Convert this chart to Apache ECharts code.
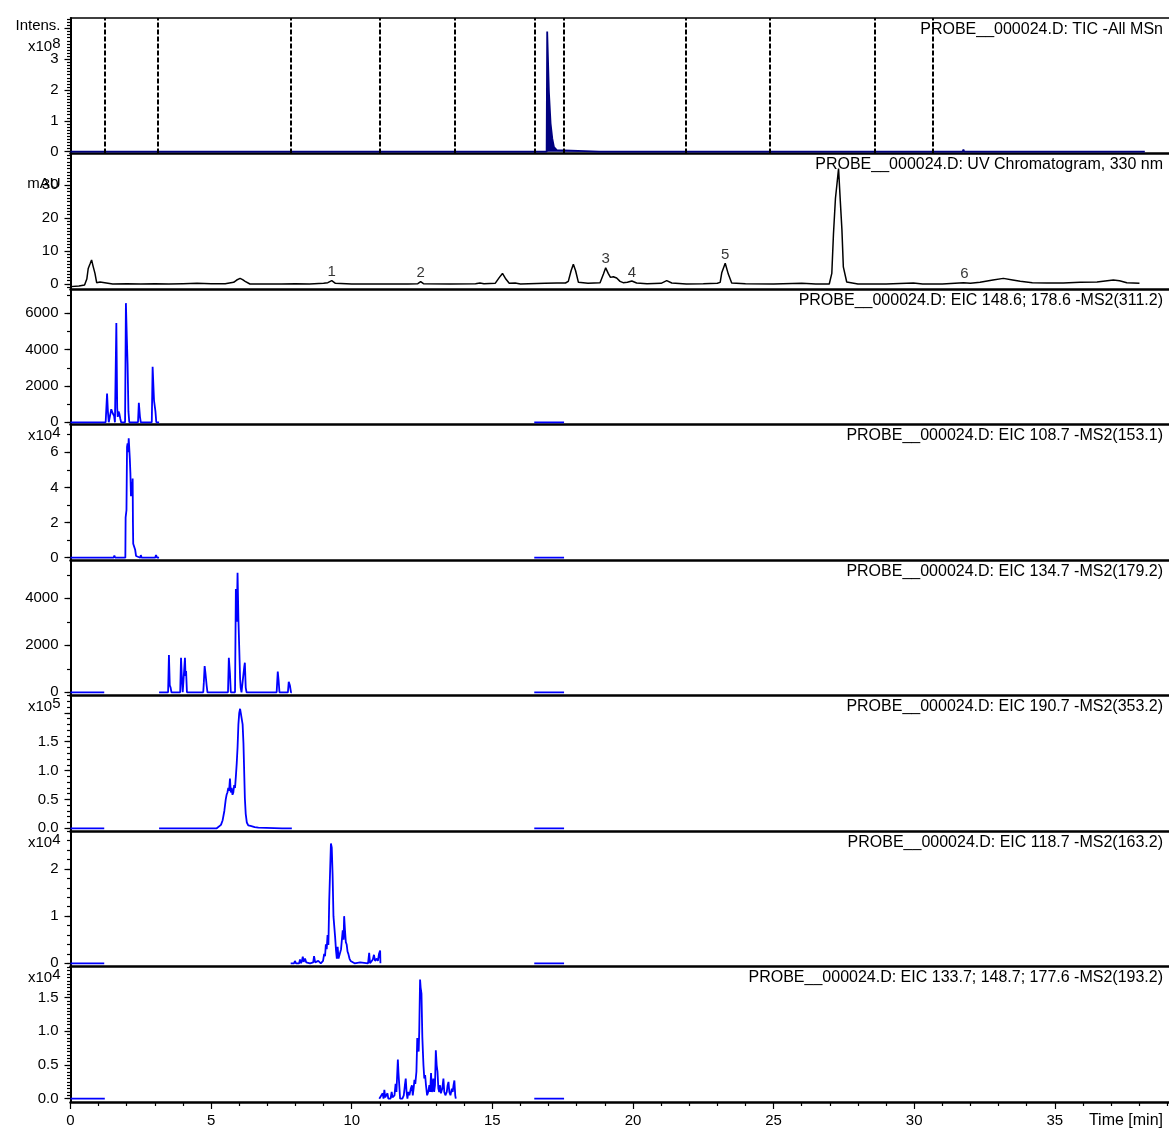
<!DOCTYPE html>
<html><head><meta charset="utf-8">
<script src="https://cdn.jsdelivr.net/npm/echarts@6/dist/echarts.min.js"></script>
<style>html,body{margin:0;padding:0;background:#fff}#c{width:1169px;height:1129px}</style>
</head><body><div id="c"></div>
<script>
const FONT = '"Liberation Sans", Arial, sans-serif';

// ---------------- data ----------------
const timeMax = 39.06;
const xTicks = [0, 5, 10, 15, 20, 25, 30, 35];
const segmentTimes = [1.23, 3.12, 7.84, 10.98, 13.68, 16.49, 17.55, 21.89, 24.85, 28.58, 30.65];

const titles = [
  'PROBE__000024.D: TIC -All MSn',
  'PROBE__000024.D: UV Chromatogram, 330 nm',
  'PROBE__000024.D: EIC 148.6; 178.6 -MS2(311.2)',
  'PROBE__000024.D: EIC 108.7 -MS2(153.1)',
  'PROBE__000024.D: EIC 134.7 -MS2(179.2)',
  'PROBE__000024.D: EIC 190.7 -MS2(353.2)',
  'PROBE__000024.D: EIC 118.7 -MS2(163.2)',
  'PROBE__000024.D: EIC 133.7; 148.7; 177.6 -MS2(193.2)'
];

// TIC (x10^8)
const tic = [[0,0],[9.20,0],[9.23,0.06],[9.26,0],[9.55,0],[9.58,0.06],[9.61,0],[12.28,0],[12.31,0.05],[12.34,0],
  [12.72,0],[12.75,0.05],[12.78,0],[16.93,0],[16.95,3.9],[16.99,3.9],[17.01,1.95],[17.05,1.9],[17.07,0.92],[17.11,0.9],
  [17.13,0.43],[17.17,0.4],[17.19,0.15],[17.24,0.1],[17.29,0.05],[17.35,0],[18.80,0],[18.83,0.06],[18.86,0],
  [19.58,0],[19.61,0.05],[19.64,0],[20.15,0],[20.18,0.06],[20.21,0],[21.0,0],[21.03,0.04],[21.06,0],[23.05,0],
  [23.08,0.06],[23.11,0],[23.38,0],[23.41,0.05],[23.44,0],[31.72,0],[31.75,0.07],[31.78,0],[32.20,0],[32.23,0.04],
  [32.26,0],[38.2,0]];

// UV 330 nm (mAU)
const uv = [[0,-0.8],[0.3,-0.6],[0.5,-0.3],[0.58,1.5],[0.63,4.7],[0.70,6.2],[0.75,7.3],[0.80,5.5],[0.87,3.2],[0.93,0.4],
  [1.0,0.3],[1.05,0.6],[1.1,0.1],[1.5,0.0],[2.0,0.1],[2.5,0],[3.0,0.1],[3.5,0],[4.0,0.1],[4.5,0.2],[5.0,0.1],[5.5,0.1],
  [5.8,0.5],[5.91,1.2],[6.03,1.7],[6.12,1.3],[6.21,0.8],[6.38,0],[7.0,0],[7.5,0],[8.0,0.1],[8.5,0.0],[9.0,0.2],[9.15,0.4],
  [9.29,1.0],[9.42,0.2],[10,0],[11,0],[12,0],[12.35,0.1],[12.45,0.7],[12.55,0.1],[13.5,0],[14.4,0.1],[14.56,0.3],
  [14.7,0.1],[15.1,0.2],[15.25,2.0],[15.36,3.2],[15.48,1.5],[15.6,0.2],[15.81,0.3],[16.0,0],[16.87,0.2],[17.3,0.3],
  [17.6,0.3],[17.7,0.8],[17.8,4.0],[17.88,6.0],[17.96,4.0],[18.06,0.5],[18.4,0.2],[18.83,0.4],[18.95,3.0],[19.03,4.9],
  [19.12,3.2],[19.20,2.0],[19.30,2.2],[19.42,1.8],[19.54,0.8],[19.65,0.4],[19.80,0.5],[19.96,0.9],[20.13,0.3],[20.5,0.1],
  [21.0,0.2],[21.2,1.0],[21.38,0.3],[21.9,0],[22.5,0.1],[23.0,0.2],[23.1,0.5],[23.16,3.5],[23.28,6.3],[23.39,3.0],
  [23.51,0.3],[24,0.1],[25,0],[26,0.2],[26.5,0],[26.98,0],[27.07,3.2],[27.13,15.3],[27.2,26],[27.25,30],[27.31,35],
  [27.37,25.5],[27.43,16.4],[27.48,5.2],[27.6,0.6],[28,0],[29,0],[29.97,0.3],[30.3,0],[31,0],[31.75,0.4],[32.0,0.2],
  [32.34,0.5],[32.8,1.2],[33.17,1.7],[33.5,1.2],[33.77,0.8],[34.2,0.4],[34.72,0.3],[35.3,0.3],[35.9,0.5],[36.5,0.6],
  [37.08,1.2],[37.3,1.0],[37.56,0.4],[38.01,0.2]];
const peakTimes = [9.29, 12.45, 19.03, 19.96, 23.28, 31.79];
const peakValues = [1.0, 0.7, 4.9, 0.9, 6.3, 0.4];
const peakNames = ['1', '2', '3', '4', '5', '6'];

// EIC 148.6; 178.6 -MS2(311.2)
const eic148 = [[0,0],[1.25,0],[1.28,0],[1.30,1580],[1.33,600],[1.36,0],[1.42,0],[1.45,720],[1.50,500],[1.55,350],
  [1.58,0],[1.61,0],[1.63,5460],[1.66,800],[1.68,300],[1.71,600],[1.74,450],[1.77,200],[1.80,0],[1.94,0],[1.97,6560],
  [2.0,4800],[2.03,3200],[2.06,600],[2.09,0],[2.40,0],[2.43,1070],[2.47,300],[2.50,0],[2.89,0],[2.92,3060],[2.97,1200],
  [3.02,600],[3.05,0],[3.15,0],null,[16.49,0],[17.55,0]];
// EIC 108.7 -MS2(153.1) (x10^4)
const eic108 = [[0,0],[1.53,0],[1.56,0.12],[1.59,0],[1.67,0],[1.70,0.1],[1.73,0],[1.95,0],[1.96,2.3],[1.99,2.7],
  [2.01,6.3],[2.03,6.5],[2.05,6.0],[2.07,6.8],[2.09,6.7],[2.11,5.6],[2.13,4.8],[2.15,3.5],[2.17,4.3],[2.19,3.6],
  [2.21,4.5],[2.22,2.0],[2.23,0.8],[2.27,0.6],[2.30,0.45],[2.33,0.1],[2.36,0],[2.48,0],[2.50,0.15],[2.53,0],[3.01,0],
  [3.04,0.15],[3.08,0],[3.15,0],null,[16.49,0],[17.55,0]];
// EIC 134.7 -MS2(179.2)
const eic134 = [[0,0],[1.2,0],null,[3.15,0],[3.47,0],[3.50,1590],[3.53,300],[3.56,200],[3.59,0],[3.90,0],[3.93,1470],
  [3.96,600],[3.99,0],[4.03,0],[4.07,1470],[4.09,700],[4.11,900],[4.14,0],[4.72,0],[4.74,400],[4.77,1120],[4.80,800],
  [4.84,300],[4.87,0],[5.60,0],[5.63,1470],[5.67,800],[5.70,0],[5.85,0],[5.88,4400],[5.91,3000],[5.94,5090],[5.97,3150],
  [6.00,3100],[6.03,600],[6.05,200],[6.08,0],[6.15,0],[6.18,1100],[6.20,1260],[6.23,200],[6.26,0],[7.33,0],[7.37,880],
  [7.40,500],[7.43,0],[7.73,0],[7.76,450],[7.80,300],[7.84,0],[7.87,0],null,[16.49,0],[17.55,0]];
// EIC 190.7 -MS2(353.2) (x10^5)
const eic190 = [[0,0],[1.2,0],null,[3.15,0],[5.20,0],[5.26,0.02],[5.35,0.06],[5.41,0.14],[5.47,0.30],[5.52,0.50],
  [5.55,0.58],[5.58,0.62],[5.61,0.70],[5.64,0.65],[5.67,0.86],[5.70,0.62],[5.73,0.70],[5.76,0.58],[5.79,0.62],
  [5.82,0.75],[5.85,0.70],[5.88,0.90],[5.91,1.12],[5.94,1.40],[5.97,1.80],[6.00,2.00],[6.03,2.07],[6.06,1.98],
  [6.09,1.99],[6.12,1.80],[6.15,1.47],[6.18,0.90],[6.20,0.52],[6.23,0.25],[6.27,0.10],[6.32,0.05],[6.40,0.04],
  [6.47,0.03],[6.55,0.02],[6.62,0.03],[6.68,0.01],[6.75,0],[7.52,0],[7.57,0.02],[7.62,0],[7.87,0],null,[16.49,0],[17.55,0]];
// EIC 118.7 -MS2(163.2) (x10^4)
const eic118 = [[0,0],[1.2,0],null,[7.83,0],[7.95,0],[7.98,0.05],[8.02,0],[8.13,0],[8.16,0.08],[8.20,0],[8.23,0.06],
  [8.26,0.14],[8.29,0.03],[8.34,0.1],[8.38,0.02],[8.45,0.05],[8.52,0],[8.63,0.02],[8.66,0.15],[8.70,0.02],[8.81,0.05],
  [8.90,0],[8.98,0.05],[9.02,0.2],[9.05,0.15],[9.08,0.4],[9.11,0.3],[9.14,0.6],[9.17,0.39],[9.20,1.34],[9.23,1.30],
  [9.26,2.54],[9.29,2.45],[9.32,1.87],[9.35,1.0],[9.38,0.99],[9.41,0.55],[9.44,0.28],[9.47,0.1],[9.50,0.35],[9.53,0.1],
  [9.58,0.12],[9.62,0.3],[9.65,0.3],[9.68,0.7],[9.71,0.5],[9.73,1.0],[9.76,0.7],[9.79,0.45],[9.82,0.4],[9.85,0.25],
  [9.88,0.2],[9.92,0.1],[9.96,0.05],[10.0,0.03],[10.1,0],[10.3,0.02],[10.35,0],[10.58,0],[10.62,0.22],[10.65,0],
  [10.72,0],[10.75,0.08],[10.79,0.18],[10.83,0.05],[10.89,0.1],[10.93,0.05],[10.97,0.2],[11.01,0.27],[11.02,0],
  null,[16.49,0],[17.55,0]];
// EIC 133.7; 148.7; 177.6 -MS2(193.2) (x10^4)
const eic133 = [[0,0],[1.22,0],null,[10.98,0],[11.05,0],[11.10,0.08],[11.13,0],[11.16,0.13],[11.19,0.02],[11.24,0],
  [11.27,0.08],[11.30,0],[11.38,0],[11.42,0.1],[11.45,0.02],[11.52,0.05],[11.56,0.22],[11.59,0.1],[11.61,0.3],
  [11.64,0.58],[11.66,0.4],[11.69,0.2],[11.72,0],[11.80,0],[11.85,0.05],[11.89,0.2],[11.92,0.3],[11.95,0.1],[11.98,0],
  [12.01,0.1],[12.05,0.05],[12.10,0.15],[12.14,0.2],[12.17,0.05],[12.20,0.15],[12.23,0.28],[12.26,0.22],[12.30,0.4],
  [12.33,0.9],[12.36,0.9],[12.38,0.7],[12.40,1.0],[12.43,1.77],[12.45,1.65],[12.48,1.56],[12.51,0.92],[12.53,0.7],
  [12.55,0.5],[12.58,0.3],[12.61,0.35],[12.64,0.2],[12.68,0.05],[12.72,0.1],[12.76,0.2],[12.79,0.1],[12.82,0.38],
  [12.85,0.1],[12.88,0.15],[12.90,0.3],[12.93,0.1],[12.96,0.2],[12.99,0.72],[13.02,0.5],[13.05,0.4],[13.08,0.15],
  [13.11,0.1],[13.14,0.2],[13.17,0.08],[13.22,0.15],[13.26,0.3],[13.29,0.1],[13.33,0.05],[13.38,0.1],[13.41,0.2],
  [13.44,0.25],[13.47,0.1],[13.51,0.05],[13.56,0.15],[13.59,0.1],[13.62,0.2],[13.65,0.27],[13.68,0.05],[13.70,0],
  null,[16.49,0],[17.55,0]];

// y tick values per panel
const yTicksTIC = [0, 1, 2, 3, 4];
const yTicksUV = [0, 10, 20, 30];
const yTicks148 = [0, 2000, 4000, 6000];
const yTicks108 = [0, 2, 4, 6];
const yTicks134 = [0, 2000, 4000];
const yTicks190 = [0, 0.5, 1.0, 1.5, 2.0];
const yTicks118 = [0, 1, 2];
const yTicks133 = [0, 0.5, 1.0, 1.5];

// ---------------- layout / style ----------------
const TOP = 18, H = 135.5, LEFT = 70.5;
const BLUE = '#0000ff', NAVY = '#000080';
const panels = [
  {data: tic, color: NAVY, min: -0.058, max: 4.34, ticks: yTicksTIC, minorStep: 0.1, labelMax: 3, dec: 0,
   name: '{n|Intens.}\n{n|x10}{s|8}', nameOff: 18.5},
  {data: uv, color: '#000000', min: -1.52, max: 39.55, ticks: yTicksUV, minorStep: 1, labelMax: 30, dec: 0,
   name: '{n|mAU}', nameOff: 30.5},
  {data: eic148, color: BLUE, min: -121, max: 7338, ticks: yTicks148, minorStep: 1000, labelMax: 6000, dec: 0,
   name: '', nameOff: 11},
  {data: eic108, color: BLUE, min: -0.13, max: 7.58, ticks: yTicks108, minorStep: 1, labelMax: 6, dec: 0,
   name: '{n|x10}{s|4}', nameOff: 11.5},
  {data: eic134, color: BLUE, min: -136, max: 5630, ticks: yTicks134, minorStep: 1000, labelMax: 4000, dec: 0,
   name: '', nameOff: 11},
  {data: eic190, color: BLUE, min: -0.047, max: 2.30, ticks: yTicks190, minorStep: 0.1, labelMax: 1.5, dec: 1,
   name: '{n|x10}{s|5}', nameOff: 11.5},
  {data: eic118, color: BLUE, min: -0.068, max: 2.806, ticks: yTicks118, minorStep: 0.2, labelMax: 2, dec: 0,
   name: '{n|x10}{s|4}', nameOff: 11.5},
  {data: eic133, color: BLUE, min: -0.049, max: 1.963, ticks: yTicks133, minorStep: 0.05, labelMax: 1.5, dec: 1,
   name: '{n|x10}{s|4}', nameOff: 11}
];

function minorValues(min, max, step) {
  const out = [];
  const start = Math.ceil(min / step - 1e-9);
  for (let k = start; k * step <= max + 1e-9; k++) out.push(+(k * step).toFixed(6));
  return out;
}
const prep = arr => arr.map(d => d === null ? ['-', '-'] : d);

const grids = [], xAxes = [], yAxes = [], series = [], titleArr = [];
const tickStyle = {color: '#000', width: 1.2};

panels.forEach((p, i) => {
  const top = TOP + i * H;
  const last = i === panels.length - 1;
  grids.push({left: LEFT, right: 0, top: top, height: H, containLabel: false, outerBoundsMode: 'none'});
  xAxes.push({
    type: 'value', gridIndex: i, min: 0, max: timeMax, interval: 5, position: 'bottom',
    axisLine: {show: true, onZero: false, lineStyle: {color: '#000', width: 2.5}},
    axisTick: {show: last, length: 7, customValues: xTicks, lineStyle: tickStyle},
    minorTick: {show: last, splitNumber: 5, length: 4, lineStyle: tickStyle},
    axisLabel: {show: last, customValues: xTicks, fontSize: 15, color: '#000', margin: 11, fontFamily: FONT},
    splitLine: {show: false},
    name: last ? 'Time [min]' : '', nameLocation: 'end', nameGap: -6, nameMoveOverlap: false,
    nameTextStyle: {align: 'right', verticalAlign: 'top', padding: [11, 0, 0, 0], fontSize: 16, color: '#000', fontFamily: FONT}
  });
  yAxes.push({
    type: 'value', gridIndex: i, position: 'left', min: p.min, max: p.max,
    axisLine: {show: true, onZero: false, lineStyle: {color: '#000', width: 2}},
    axisTick: {show: true, length: 6, customValues: p.ticks, lineStyle: tickStyle},
    axisLabel: {show: true, customValues: p.ticks.filter(v => v <= p.labelMax + 1e-9),
      formatter: v => p.dec ? Number(v).toFixed(p.dec) : String(Math.round(v)),
      fontSize: 15, color: '#000', margin: 12, fontFamily: FONT},
    splitLine: {show: false},
    name: p.name, nameLocation: 'end', nameGap: -p.nameOff, nameMoveOverlap: false,
    nameTextStyle: {align: 'right', verticalAlign: 'middle', padding: [0, 10, 0, 0], fontSize: 15, fontFamily: FONT,
      rich: {
        n: {fontSize: 15, fontFamily: FONT, color: '#000', lineHeight: 21, align: 'right'},
        s: {fontSize: 15, fontFamily: FONT, color: '#000', lineHeight: 12, verticalAlign: 'top', align: 'right'}
      }}
  });
  yAxes.push({
    type: 'value', gridIndex: i, position: 'left', offset: 0, min: p.min, max: p.max,
    axisLine: {show: false, onZero: false},
    axisTick: {show: true, length: 3.5, customValues: minorValues(p.min, p.max, p.minorStep), lineStyle: tickStyle},
    axisLabel: {show: false}, splitLine: {show: false}
  });
  titleArr.push({text: titles[i], right: 6, top: top + 3.5, padding: 0,
    textStyle: {fontSize: 16, fontWeight: 'normal', color: '#000', fontFamily: FONT}});
  const s = {
    type: 'line', xAxisIndex: i, yAxisIndex: 2 * i, data: prep(p.data), symbol: 'none', showSymbol: false,
    connectNulls: false, silent: true, z: 3,
    lineStyle: {color: p.color, width: i === 1 ? 1.5 : 1.8}, itemStyle: {color: p.color}
  };
  if (i === 0) {
    s.areaStyle = {color: NAVY, opacity: 1};
    s.markLine = {symbol: 'none', silent: true, label: {show: false},
      lineStyle: {color: '#000', type: [5, 2], width: 2},
      data: segmentTimes.map(t => ({xAxis: t}))};
  }
  series.push(s);
  if (i === 1) {
    series.push({
      type: 'scatter', xAxisIndex: 1, yAxisIndex: 2, symbolSize: 0, silent: true, z: 4,
      data: peakTimes.map((t, k) => ({value: [t, peakValues[k]], name: peakNames[k]})),
      label: {show: true, position: 'top', distance: 1, formatter: d => d.name,
        fontSize: 15, color: '#000', fontFamily: FONT}
    });
  }
});
// top border line of first panel
xAxes.push({type: 'value', gridIndex: 0, min: 0, max: timeMax, position: 'top',
  axisLine: {show: true, onZero: false, lineStyle: {color: '#000', width: 1.5}},
  axisTick: {show: false}, axisLabel: {show: false}, splitLine: {show: false}});

const chart = echarts.init(document.getElementById('c'), null, {renderer: 'canvas'});
chart.setOption({
  animation: false,
  backgroundColor: '#fff',
  textStyle: {fontFamily: FONT},
  title: titleArr,
  grid: grids,
  xAxis: xAxes,
  yAxis: yAxes,
  series: series
});
</script></body></html>
